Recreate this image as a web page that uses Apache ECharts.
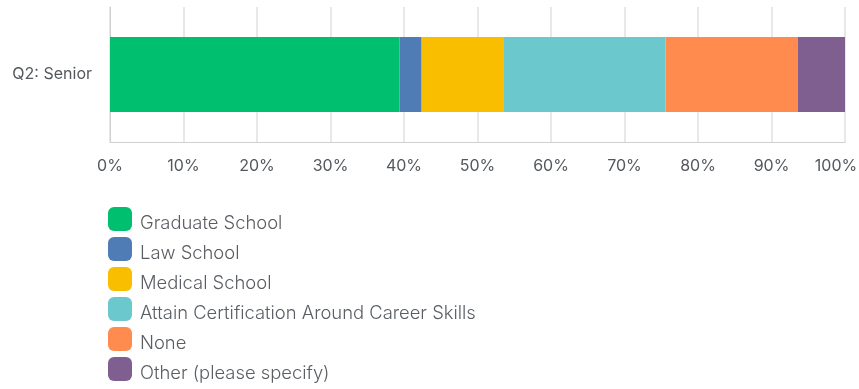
<!DOCTYPE html>
<html>
<head>
<meta charset="utf-8">
<script src="https://cdn.jsdelivr.net/npm/echarts@6/dist/echarts.min.js"></script>
<style>
  html, body { margin: 0; padding: 0; background: #fff; }
  #chart { width: 859px; height: 389px; }
</style>
</head>
<body>
<div id="chart"></div>
<script>
// Survey answers for one question, as percentages of respondents
const categories = ['Q2: Senior'];
const seriesNames = [
  'Graduate School',
  'Law School',
  'Medical School',
  'Attain Certification Around Career Skills',
  'None',
  'Other (please specify)'
];
const graduateSchool = [39.4];
const lawSchool = [3.0];
const medicalSchool = [11.2];
const certification = [22.0];
const none = [18.0];
const other = [6.4];
const tickLabels = ['0%', '10%', '20%', '30%', '40%', '50%', '60%', '70%', '80%', '90%', '100%'];

const colors = ['#00BF6F', '#507CB6', '#F9BE00', '#6BC8CD', '#FF8B4F', '#7F5F90'];
const values = [graduateSchool, lawSchool, medicalSchool, certification, none, other];

const chart = echarts.init(document.getElementById('chart'), null, { renderer: 'canvas' });

chart.setOption({
  animation: false,
  textStyle: { fontFamily: 'Inter, Roboto, sans-serif' },
  grid: { left: 110, right: 14, top: 7, bottom: 247, outerBoundsMode: 'none', containLabel: false },
  legend: {
    orient: 'vertical',
    left: 108,
    top: 206,
    height: 200,
    padding: 0,
    itemWidth: 24,
    itemHeight: 24,
    itemGap: 4,
    icon: 'roundRect',
    selectedMode: false,
    // names sit slightly below the swatch centre
    formatter: name => '{t|' + name + '}',
    textStyle: {
      fontSize: 18.4,
      color: '#5a5e63',
      fontWeight: 300,
      rich: {
        t: { fontSize: 18.4, lineHeight: 22, color: '#5a5e63', fontWeight: 300, padding: [8, 0, 0, 3] }
      }
    },
    data: seriesNames
  },
  xAxis: {
    type: 'value',
    min: 0,
    max: 100,
    interval: 10,
    axisLine: { show: true, lineStyle: { color: '#cfcfcf', width: 1 } },
    axisTick: { show: false },
    splitLine: { show: true, lineStyle: { color: '#e8e8e8', width: 2 } },
    axisLabel: {
      margin: 16,
      fontSize: 16,
      color: '#54585d',
      // the last label is nudged inward so it stays inside the canvas
      formatter: v => {
        const t = tickLabels[Math.round(v / 10)];
        return v === 100 ? '{last|' + t + '}' : t;
      },
      rich: {
        last: { fontSize: 16, color: '#54585d', padding: [0, 18, 0, 0] }
      }
    }
  },
  yAxis: {
    type: 'category',
    data: categories,
    axisLine: { show: true, lineStyle: { color: '#cfcfcf', width: 1 } },
    axisTick: { show: false },
    axisLabel: { margin: 18, fontSize: 16, color: '#54585d' }
  },
  series: seriesNames.map((name, i) => ({
    name,
    type: 'bar',
    stack: 'total',
    barWidth: 75,
    itemStyle: { color: colors[i] },
    data: values[i]
  }))
});
</script>
</body>
</html>
